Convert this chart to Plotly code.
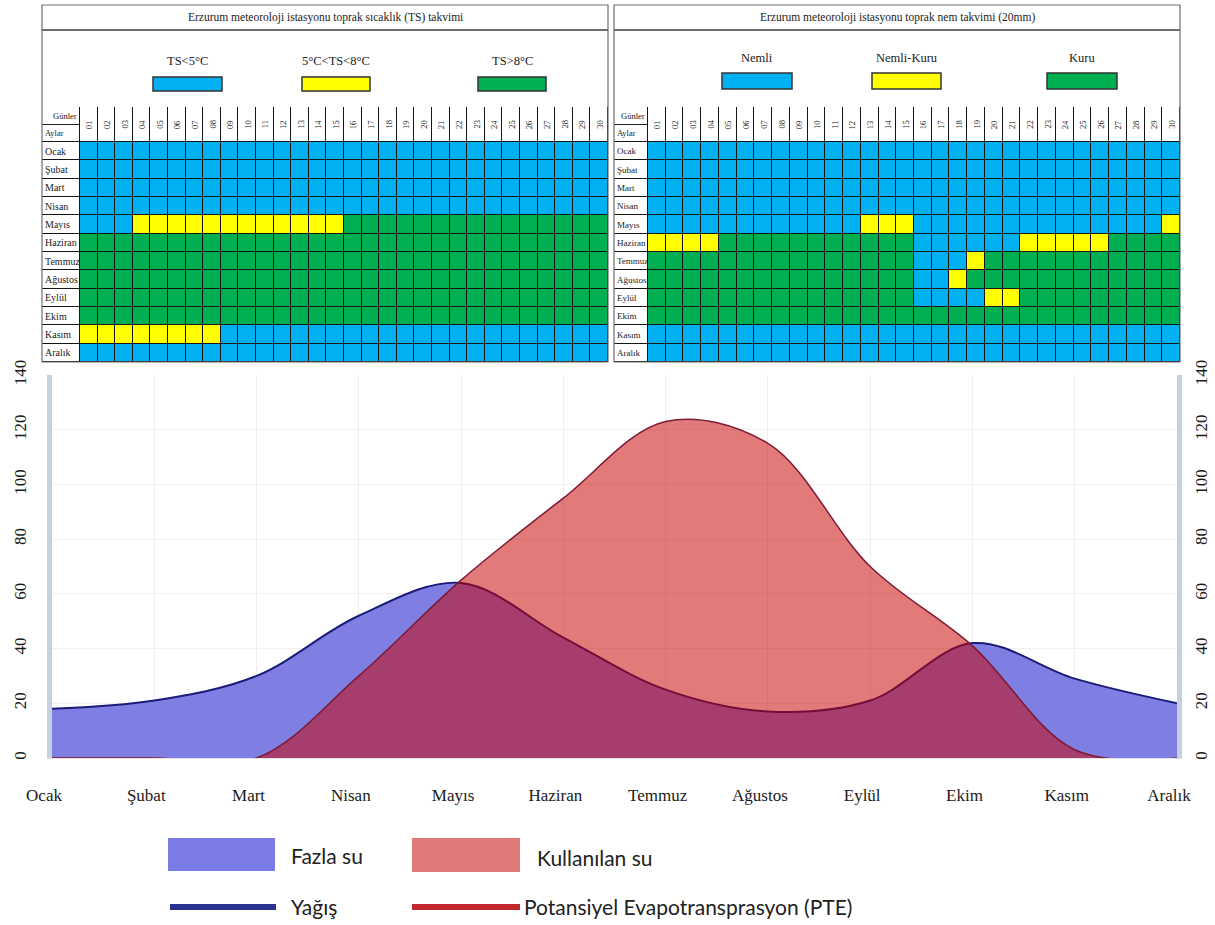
import plotly.graph_objects as go

W, H = 1215, 925


def fx(p):
    return p / W


def fy(p):
    return 1 - p / H


# ---------------- data ----------------
months = ["Ocak", "Şubat", "Mart", "Nisan", "Mayıs", "Haziran", "Temmuz",
          "Ağustos", "Eylül", "Ekim", "Kasım", "Aralık"]
days = ["01", "02", "03", "04", "05", "06", "07", "08", "09", "10",
        "11", "12", "13", "14", "15", "16", "17", "18", "19", "20",
        "21", "22", "23", "24", "25", "26", "27", "28", "29", "30"]

# Yağış (precipitation) and PTE, mm
yagis = [18, 21, 30, 52, 64, 44, 25, 17, 21, 42, 29, 20]
pte = [0, 0, 0, 30, 65, 95, 123, 115, 70, 41, 3, 0]
y_ticks = [0, 20, 40, 60, 80, 100, 120, 140]

ts_title = "Erzurum meteoroloji istasyonu toprak sıcaklık (TS) takvimi"
nem_title = "Erzurum meteoroloji istasyonu toprak nem takvimi (20mm)"
ts_legend = ["TS<5°C", "5°C<TS<8°C", "TS>8°C"]
nem_legend = ["Nemli", "Nemli-Kuru", "Kuru"]
head_days = "Günler"
head_months = "Aylar"

# B = blue class, Y = yellow class, G = green class (days 01..30, in groups of ten)
ts_rows = [
    "BBBBBBBBBB BBBBBBBBBB BBBBBBBBBB",  # Ocak
    "BBBBBBBBBB BBBBBBBBBB BBBBBBBBBB",  # Şubat
    "BBBBBBBBBB BBBBBBBBBB BBBBBBBBBB",  # Mart
    "BBBBBBBBBB BBBBBBBBBB BBBBBBBBBB",  # Nisan
    "BBBYYYYYYY YYYYYGGGGG GGGGGGGGGG",  # Mayıs
    "GGGGGGGGGG GGGGGGGGGG GGGGGGGGGG",  # Haziran
    "GGGGGGGGGG GGGGGGGGGG GGGGGGGGGG",  # Temmuz
    "GGGGGGGGGG GGGGGGGGGG GGGGGGGGGG",  # Ağustos
    "GGGGGGGGGG GGGGGGGGGG GGGGGGGGGG",  # Eylül
    "GGGGGGGGGG GGGGGGGGGG GGGGGGGGGG",  # Ekim
    "YYYYYYYYBB BBBBBBBBBB BBBBBBBBBB",  # Kasım
    "BBBBBBBBBB BBBBBBBBBB BBBBBBBBBB",  # Aralık
]
nem_rows = [
    "BBBBBBBBBB BBBBBBBBBB BBBBBBBBBB",  # Ocak
    "BBBBBBBBBB BBBBBBBBBB BBBBBBBBBB",  # Şubat
    "BBBBBBBBBB BBBBBBBBBB BBBBBBBBBB",  # Mart
    "BBBBBBBBBB BBBBBBBBBB BBBBBBBBBB",  # Nisan
    "BBBBBBBBBB BBYYYBBBBB BBBBBBBBBY",  # Mayıs
    "YYYYGGGGGG GGGGGBBBBB BYYYYYGGGG",  # Haziran
    "GGGGGGGGGG GGGGGBBBYG GGGGGGGGGG",  # Temmuz
    "GGGGGGGGGG GGGGGBBYGG GGGGGGGGGG",  # Ağustos
    "GGGGGGGGGG GGGGGBBBBY YGGGGGGGGG",  # Eylül
    "GGGGGGGGGG GGGGGGGGGG GGGGGGGGGG",  # Ekim
    "BBBBBBBBBB BBBBBBBBBB BBBBBBBBBB",  # Kasım
    "BBBBBBBBBB BBBBBBBBBB BBBBBBBBBB",  # Aralık
]

# ---------------- styling ----------------
SERIF = "Liberation Serif"
SANS = "Lato"
C_BLUE, C_YEL, C_GRN = "#00b0f0", "#ffff00", "#00b050"
cell_code = {"B": 0, "Y": 1, "G": 2}
WHITE_CODE = 3
colorscale = [[0, C_BLUE], [0.25, C_BLUE], [0.25, C_YEL], [0.5, C_YEL],
              [0.5, C_GRN], [0.75, C_GRN], [0.75, "#ffffff"], [1, "#ffffff"]]


def esc(t):
    return t.replace("<", "&lt;").replace(">", "&gt;")


fig = go.Figure()
shapes = []
annotations = []
layout_axes = {}


def note(text, x, y, xref="paper", yref="paper", xanchor="center", yanchor="middle",
         size=12, family=SERIF, angle=0, color="#222"):
    annotations.append(dict(text=text, xref=xref, yref=yref, x=x, y=y, xanchor=xanchor,
                            yanchor=yanchor, textangle=angle, showarrow=False,
                            font=dict(family=family, size=size, color=color)))


def add_table(sfx, rows, title, legend, geo):
    x0, xl, x1 = geo["x0"], geo["xl"], geo["x1"]
    top, tbot, htop, rtop, bot = geo["top"], geo["tbot"], geo["htop"], geo["rtop"], geo["bot"]
    cw = (x1 - xl) / len(days)
    rh = (bot - rtop) / len(rows)
    LW = (xl - x0) / cw
    HH = (rtop - htop) / rh
    xe = [-LW] + [float(i) for i in range(len(days) + 1)]
    ye = [-HH] + [float(j) for j in range(len(rows) + 1)]
    z = [[WHITE_CODE] * (len(days) + 1)]
    for r in rows:
        r = r.replace(" ", "")
        z.append([WHITE_CODE] + [cell_code[c] for c in r])
    xa, ya = "x" + sfx, "y" + sfx
    fig.add_trace(go.Heatmap(x=xe, y=ye, z=z, zmin=-0.5, zmax=3.5, colorscale=colorscale,
                             showscale=False, xgap=1, ygap=1, hoverinfo="skip",
                             xaxis=xa, yaxis=ya))
    layout_axes["xaxis" + sfx] = dict(domain=[fx(x0), fx(x1)], range=[-LW, len(days)],
                                      visible=False, fixedrange=True, anchor=ya)
    layout_axes["yaxis" + sfx] = dict(domain=[fy(bot), fy(htop)], range=[len(rows), -HH],
                                      visible=False, fixedrange=True, anchor=xa)
    # black grid behind the cells
    shapes.append(dict(type="rect", xref=xa, yref=ya, x0=-LW, x1=len(days), y0=-HH,
                       y1=len(rows), fillcolor="#151515", line=dict(width=0), layer="below"))
    shapes.append(dict(type="line", xref=xa, yref=ya, x0=-LW, x1=0, y0=-HH * 0.5,
                       y1=-HH * 0.5, line=dict(color="#222", width=1)))
    # frames
    shapes.append(dict(type="rect", xref="paper", yref="paper", x0=fx(x0), x1=fx(x1),
                       y0=fy(bot), y1=fy(top), line=dict(color="#6e6e6e", width=1.2)))
    shapes.append(dict(type="line", xref="paper", yref="paper", x0=fx(x0), x1=fx(x1),
                       y0=fy(tbot), y1=fy(tbot), line=dict(color="#6e6e6e", width=2)))
    note(title, fx((x0 + x1) / 2), fy((top + tbot) / 2), size=11.5)
    # legend swatches
    for lab, col, (sx0, sx1) in zip(legend, [C_BLUE, C_YEL, C_GRN], geo["sw"]):
        shapes.append(dict(type="rect", xref="paper", yref="paper", x0=fx(sx0), x1=fx(sx1),
                           y0=fy(geo["sw_y"][1]), y1=fy(geo["sw_y"][0]), fillcolor=col,
                           line=dict(color="#333", width=1.5)))
        note(esc(lab), fx((sx0 + sx1) / 2), fy(geo["lab_y"]), size=12.5)
    # header texts
    for i, d in enumerate(days):
        note(d, i + 0.5, -HH / 2, xref=xa, yref=ya, size=8.5, angle=-90)
    for j, m in enumerate(months):
        note(m, -LW + 0.08, j + 0.5, xref=xa, yref=ya, xanchor="left", size=geo["mfs"])
    note(head_days, -0.05, -HH * 0.74, xref=xa, yref=ya, xanchor="right", size=8.5)
    note(head_months, -LW + 0.08, -HH * 0.26, xref=xa, yref=ya, xanchor="left", size=8.5)


add_table("", ts_rows, ts_title, ts_legend,
          dict(x0=42, xl=80, x1=608, top=5, tbot=30, htop=107, rtop=142, bot=362,
               sw=[(153, 222), (302, 370), (478, 546)], sw_y=(77, 91), lab_y=61, mfs=10))
add_table("2", nem_rows, nem_title, nem_legend,
          dict(x0=614, xl=648, x1=1180, top=5, tbot=30, htop=107, rtop=142, bot=362,
               sw=[(722, 792), (872, 941), (1047, 1117)], sw_y=(73, 89), lab_y=58, mfs=9))

# ---------------- water balance chart ----------------
fig.add_trace(go.Scatter(x=months, y=yagis, xaxis="x3", yaxis="y3", mode="lines",
                         line=dict(color="#1c1c78", width=2, shape="spline", smoothing=1),
                         fill="tozeroy", fillcolor="#7f7fe3", hoverinfo="skip",
                         showlegend=False))
fig.add_trace(go.Scatter(x=months, y=pte, xaxis="x3", yaxis="y3", mode="lines",
                         line=dict(color="#7d1a35", width=1.5, shape="spline", smoothing=1),
                         fill="tozeroy", fillcolor="rgba(200,0,0,0.52)", hoverinfo="skip",
                         showlegend=False))
fig.add_trace(go.Scatter(x=months, y=pte, xaxis="x3", yaxis="y4", mode="lines",
                         line=dict(width=0), opacity=0, hoverinfo="skip", showlegend=False))

axis_font = dict(family=SERIF, size=17, color="#1a1a1a")
layout_axes["xaxis3"] = dict(domain=[fx(52), fx(1177)], anchor="y3", type="category",
                             range=[0, len(months) - 1], tickmode="array", tickvals=months,
                             ticktext=months, showgrid=True, gridcolor="#eeeeee",
                             showline=True, linecolor="#e4e4e4", zeroline=False, ticks="",
                             tickfont=dict(family=SERIF, size=17, color="#1a1a1a"),
                             ticklabelstandoff=22, ticklabelshift=-8, fixedrange=True)
layout_axes["yaxis3"] = dict(domain=[fy(758), fy(375)], anchor="x3", range=[0, 140],
                             tickmode="array", tickvals=y_ticks, tickangle=-90,
                             showline=True, linecolor="#c4d1de", linewidth=5,
                             showgrid=True, gridcolor="#f0f0f0", zeroline=False, ticks="",
                             tickfont=axis_font, ticklabelstandoff=14, fixedrange=True)
layout_axes["yaxis4"] = dict(overlaying="y3", side="right", anchor="x3", range=[0, 140],
                             tickmode="array", tickvals=y_ticks, tickangle=-90,
                             showline=True, linecolor="#c4d1de", linewidth=5,
                             showgrid=False, zeroline=False, ticks="",
                             tickfont=axis_font, ticklabelstandoff=5, fixedrange=True)

# ---------------- legend (drawn) ----------------
shapes.append(dict(type="rect", xref="paper", yref="paper", x0=fx(168), x1=fx(275),
                   y0=fy(871), y1=fy(838), fillcolor="#7b7be6", line=dict(width=0)))
shapes.append(dict(type="rect", xref="paper", yref="paper", x0=fx(412), x1=fx(520),
                   y0=fy(872), y1=fy(838), fillcolor="#e07878", line=dict(width=0)))
shapes.append(dict(type="line", xref="paper", yref="paper", x0=fx(170), x1=fx(276),
                   y0=fy(907), y1=fy(907), line=dict(color="#2b3191", width=6)))
shapes.append(dict(type="line", xref="paper", yref="paper", x0=fx(412), x1=fx(520),
                   y0=fy(907), y1=fy(907), line=dict(color="#c1272d", width=6)))
for txt, px, py in [("Fazla su", 289, 855), ("Kullanılan su", 535, 857),
                    ("Yağış", 289, 906), ("Potansiyel Evapotransprasyon (PTE)", 522, 906)]:
    note(txt, fx(px), fy(py), xanchor="left", family=SANS, size=21)

fig.update_layout(width=W, height=H, autosize=False, margin=dict(l=0, r=0, t=0, b=0),
                  template="none", paper_bgcolor="white", plot_bgcolor="rgba(0,0,0,0)",
                  showlegend=False, shapes=shapes, annotations=annotations, **layout_axes)

fig.write_html("out.html", config={"displayModeBar": False},
               post_script="document.body.style.margin='0px';document.body.style.overflow='hidden';")
